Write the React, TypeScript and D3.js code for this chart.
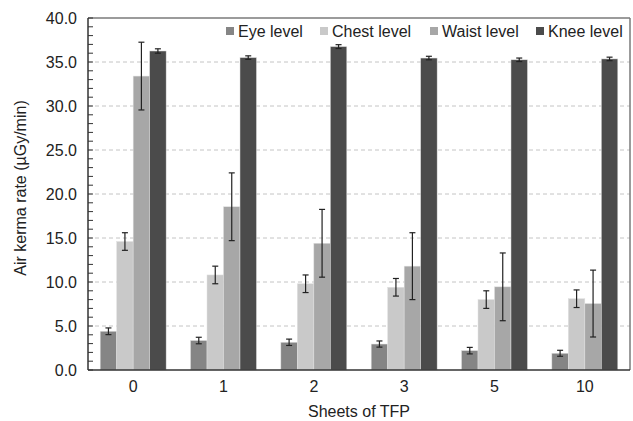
import React from "react";
import * as d3 from "d3";

const categories = ["0", "1", "2", "3", "5", "10"];
const seriesNames = ["Eye level", "Chest level", "Waist level", "Knee level"];
const eyeValues = [4.4, 3.35, 3.15, 2.95, 2.2, 1.9];
const eyeErrors = [0.38, 0.37, 0.36, 0.35, 0.37, 0.34];
const chestValues = [14.6, 10.8, 9.8, 9.4, 8.0, 8.1];
const chestErrors = [1.0, 1.0, 1.0, 1.0, 1.0, 1.0];
const waistValues = [33.4, 18.55, 14.4, 11.8, 9.45, 7.55];
const waistErrors = [3.85, 3.85, 3.85, 3.8, 3.85, 3.8];
const kneeValues = [36.25, 35.5, 36.75, 35.45, 35.25, 35.35];
const kneeErrors = [0.25, 0.2, 0.22, 0.2, 0.2, 0.2];
const yTicks = [0, 5, 10, 15, 20, 25, 30, 35, 40];
const seriesColors = ["#858585", "#c9c9c9", "#a7a7a7", "#4b4b4b"];

const W = 633;
const H = 421;
const margin = { left: 88, right: 3, top: 18, bottom: 51 };
const FONT = "'Liberation Sans', Arial, Helvetica, sans-serif";

export default function App() {
  const values = [eyeValues, chestValues, waistValues, kneeValues];
  const errors = [eyeErrors, chestErrors, waistErrors, kneeErrors];
  const x0 = d3
    .scaleBand<string>()
    .domain(categories)
    .range([margin.left, W - margin.right])
    .paddingInner(0.27)
    .paddingOuter(0.135);
  const x1 = d3
    .scaleBand<string>()
    .domain(seriesNames)
    .range([0, x0.bandwidth()]);
  const y = d3
    .scaleLinear()
    .domain([0, 40])
    .range([H - margin.bottom, margin.top]);
  const minorTicks = d3.range(0, 41, 1);
  const left = margin.left;
  const right = W - margin.right;
  const top = margin.top;
  const bottom = H - margin.bottom;

  const legendX = [226, 320, 430, 536];

  return (
    <svg
      width={W}
      height={H}
      style={{ position: "absolute", left: 0, top: 0, display: "block", background: "#fff" }}
      fontFamily={FONT}
    >
      {/* grid lines */}
      {yTicks
        .filter((t) => t > 0 && t < 40)
        .map((t) => (
          <line
            key={"g" + t}
            x1={left}
            x2={right}
            y1={y(t)}
            y2={y(t)}
            stroke="#c4c4c4"
            strokeWidth={1}
            strokeDasharray="4,3"
          />
        ))}
      {/* bars */}
      {categories.map((c, ci) => (
        <g key={"grp" + c} transform={`translate(${x0(c)},0)`}>
          {seriesNames.map((s, si) => (
            <rect
              key={s}
              x={x1(s)}
              y={y(values[si][ci])}
              width={x1.bandwidth()}
              height={y(0) - y(values[si][ci])}
              fill={seriesColors[si]}
              stroke="#e0e0e0"
              strokeWidth={0.5}
            />
          ))}
          {seriesNames.map((s, si) => {
            const cx = (x1(s) as number) + x1.bandwidth() / 2;
            const v = values[si][ci];
            const e = errors[si][ci];
            return (
              <g key={"e" + s} stroke="#222" strokeWidth={1.2}>
                <line x1={cx} x2={cx} y1={y(v + e)} y2={y(v - e)} />
                <line x1={cx - 3} x2={cx + 3} y1={y(v + e)} y2={y(v + e)} />
                <line x1={cx - 3} x2={cx + 3} y1={y(v - e)} y2={y(v - e)} />
              </g>
            );
          })}
        </g>
      ))}
      {/* frame top/right */}
      <line x1={left} x2={right} y1={top} y2={top} stroke="#7a7a7a" strokeWidth={1.5} />
      <line x1={right} x2={right} y1={top} y2={bottom} stroke="#7a7a7a" strokeWidth={1.5} />
      {/* axes */}
      <line x1={left} x2={left} y1={top} y2={bottom} stroke="#333" strokeWidth={1.5} />
      <line x1={left} x2={right} y1={bottom} y2={bottom} stroke="#333" strokeWidth={1.5} />
      {minorTicks.map((t) => (
        <line key={"t" + t} x1={left} x2={left + 5} y1={y(t)} y2={y(t)} stroke="#333" strokeWidth={1} />
      ))}
      {yTicks.map((t) => (
        <text
          key={"yl" + t}
          x={77}
          y={y(t)}
          dy="0.35em"
          textAnchor="end"
          fontSize={16}
          fill="#222"
        >
          {t.toFixed(1)}
        </text>
      ))}
      {categories.map((c) => (
        <text
          key={"xl" + c}
          x={(x0(c) as number) + x0.bandwidth() / 2}
          y={392}
          textAnchor="middle"
          fontSize={16}
          fill="#222"
        >
          {c}
        </text>
      ))}
      <text x={(left + right) / 2} y={417} textAnchor="middle" fontSize={16} fill="#222">
        Sheets of TFP
      </text>
      <text
        transform={`translate(26,188) rotate(-90)`}
        textAnchor="middle"
        fontSize={16}
        fill="#222"
      >
        Air kerma rate (µGy/min)
      </text>
      {/* legend */}
      {seriesNames.map((s, si) => (
        <g key={"lg" + s}>
          <rect x={legendX[si]} y={27} width={8} height={8} fill={seriesColors[si]} />
          <text x={legendX[si] + 12} y={37} fontSize={16} fill="#222">
            {s}
          </text>
        </g>
      ))}
    </svg>
  );
}
